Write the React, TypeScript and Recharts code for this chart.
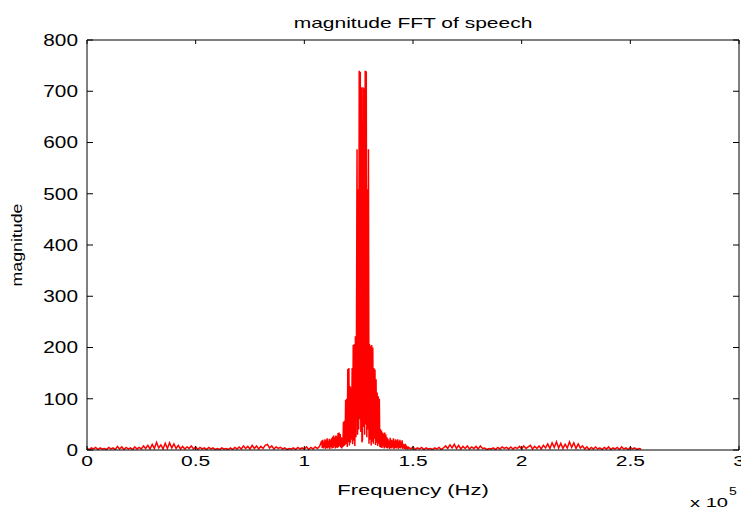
import React from 'react';
import { LineChart, Line, XAxis, YAxis } from 'recharts';

const FONT = '"Liberation Sans", Arial, Helvetica, sans-serif';
const SX = 1.4;

// x axis ticks (Hz) and their labels (in units of 1e5 Hz)
const xTicks = [0, 50000, 100000, 150000, 200000, 250000, 300000];
const xTickLabels = ['0', '0.5', '1', '1.5', '2', '2.5', '3'];
const yTicks = [0, 100, 200, 300, 400, 500, 600, 700, 800];

// FFT magnitude, low band: 0 .. 107000 Hz, one bin per 1000 Hz
const lowBandStartHz = 0;
const lowBandStepHz = 1000;
const lowBandMag = [
  3, 1, 4, 2, 5, 1, 4, 2, 3, 1,
  5, 2, 4, 1, 7, 2, 6, 1, 5, 2,
  4, 1, 6, 2, 5, 2, 8, 3, 9, 2,
  11, 3, 15, 4, 10, 2, 13, 3, 14, 4,
  12, 3, 9, 2, 7, 2, 6, 3, 8, 2,
  6, 1, 5, 2, 4, 1, 5, 2, 4, 1,
  3, 1, 4, 2, 3, 1, 4, 1, 5, 2,
  6, 2, 8, 3, 7, 2, 9, 3, 8, 2,
  7, 3, 9, 11, 4, 8, 2, 6, 3, 5,
  2, 4, 1, 3, 2, 4, 1, 5, 2, 4,
  2, 6, 1, 5, 2, 6, 3, 7,
];

// FFT magnitude, peak band: 108000 .. 147750 Hz, one bin per 250 Hz
const peakBandStartHz = 108000;
const peakBandStepHz = 250;
const peakBandMag = [
  18, 4, 20, 3, 16, 5, 21, 2, 19, 4,
  23, 3, 18, 5, 22, 2, 20, 6, 23, 3,
  26, 4, 28, 7, 25, 3, 28, 5, 27, 4,
  33, 6, 34, 8, 31, 5, 25, 3, 24, 6,
  55, 8, 57, 10, 98, 12, 100, 6, 158, 15,
  160, 9, 125, 14, 122, 20, 160, 11, 205, 18,
  207, 8, 222, 25, 223, 587, 30, 509, 40, 740,
  60, 738, 35, 708, 15, 20, 708, 45, 706, 30,
  740, 50, 739, 25, 509, 40, 587, 12, 207, 20,
  203, 9, 205, 16, 200, 12, 160, 22, 157, 10,
  138, 14, 112, 8, 105, 12, 100, 6, 41, 5,
  38, 4, 34, 7, 32, 3, 34, 6, 30, 4,
  25, 3, 22, 5, 18, 2, 24, 4, 20, 3,
  19, 5, 23, 2, 18, 4, 21, 3, 19, 5,
  21, 2, 17, 4, 20, 3, 16, 5, 19, 2,
  12, 3, 11, 2, 12, 4, 6, 2, 7, 3,
];

// FFT magnitude, high band: 148000 .. 255000 Hz, one bin per 1000 Hz
const highBandStartHz = 148000;
const highBandStepHz = 1000;
const highBandMag = [
  5, 2, 6, 1, 4, 2, 5, 1, 4, 2,
  3, 1, 4, 2, 5, 1, 4, 8, 3, 10,
  4, 11, 3, 9, 2, 7, 3, 8, 2, 6,
  3, 7, 2, 8, 3, 4, 1, 3, 2, 4,
  1, 5, 2, 6, 3, 5, 2, 6, 2, 5,
  3, 7, 2, 8, 3, 6, 9, 2, 7, 3,
  8, 2, 9, 4, 12, 3, 14, 5, 16, 4,
  13, 3, 11, 4, 16, 5, 14, 3, 12, 4,
  8, 2, 6, 1, 5, 2, 6, 2, 4, 1,
  5, 2, 6, 1, 4, 2, 5, 1, 6, 2,
  4, 1, 5, 2, 4, 1, 3, 2,
];

const toPoints = (start: number, step: number, mags: number[]) =>
  mags.map((m, i) => ({ f: start + i * step, m }));

const data = [
  ...toPoints(lowBandStartHz, lowBandStepHz, lowBandMag),
  ...toPoints(peakBandStartHz, peakBandStepHz, peakBandMag),
  ...toPoints(highBandStartHz, highBandStepHz, highBandMag),
];

function XTick(props: any) {
  const { x, y, payload } = props;
  const idx = xTicks.indexOf(payload.value);
  return (
    <text
      transform={`translate(${x},${y}) scale(${SX},1)`}
      textAnchor="middle"
      dy="0.72em"
      fontSize={15}
      fontFamily={FONT}
      fill="#000"
    >
      {idx >= 0 ? xTickLabels[idx] : ''}
    </text>
  );
}

function YTick(props: any) {
  const { x, y, payload } = props;
  return (
    <text
      transform={`translate(${x},${y}) scale(1.3,1)`}
      textAnchor="end"
      dy="0.36em"
      fontSize={16}
      fontFamily={FONT}
      fill="#000"
    >
      {String(payload.value)}
    </text>
  );
}

const NoTick = () => <g />;

export default function App() {
  return (
    <div style={{ position: 'absolute', left: 0, top: 0, width: 741, height: 511, background: '#fff' }}>
      <LineChart width={741} height={511} data={data} margin={{ top: 0, right: 0, bottom: 0, left: 0 }}>
        <XAxis
          xAxisId={0}
          dataKey="f"
          type="number"
          domain={[0, 300000]}
          ticks={xTicks}
          interval={0}
          tickSize={-4}
          tickMargin={9}
          tick={XTick}
          height={61}
          axisLine={{ stroke: '#000' }}
          tickLine={{ stroke: '#000' }}
          allowDataOverflow
        />
        <XAxis
          xAxisId="top"
          orientation="top"
          dataKey="f"
          type="number"
          domain={[0, 300000]}
          ticks={xTicks}
          interval={0}
          tickSize={-4}
          tick={NoTick}
          height={40}
          axisLine={{ stroke: '#000' }}
          tickLine={{ stroke: '#000' }}
          allowDataOverflow
        />
        <YAxis
          yAxisId={0}
          type="number"
          domain={[0, 800]}
          ticks={yTicks}
          interval={0}
          tickSize={-6}
          tickMargin={15}
          tick={YTick}
          width={87}
          axisLine={{ stroke: '#000' }}
          tickLine={{ stroke: '#000' }}
          allowDataOverflow
        />
        <YAxis
          yAxisId="r"
          orientation="right"
          type="number"
          domain={[0, 800]}
          ticks={yTicks}
          interval={0}
          tickSize={-6}
          tick={NoTick}
          width={2}
          axisLine={{ stroke: '#000' }}
          tickLine={{ stroke: '#000' }}
          allowDataOverflow
        />
        <Line
          xAxisId={0}
          yAxisId={0}
          type="linear"
          dataKey="m"
          stroke="#ff0000"
          strokeWidth={1.5}
          dot={false}
          activeDot={false}
          isAnimationActive={false}
        />
      </LineChart>
      <svg
        width={741}
        height={511}
        style={{ position: 'absolute', left: 0, top: 0, pointerEvents: 'none' }}
      >
        <text
          transform={`translate(413,28) scale(1.5,1)`}
          textAnchor="middle"
          fontSize={14}
          fontFamily={FONT}
          fill="#000"
        >
          magnitude FFT of speech
        </text>
        <text
          transform={`translate(413,495) scale(1.42,1)`}
          textAnchor="middle"
          fontSize={15.5}
          fontFamily={FONT}
          fill="#000"
        >
          Frequency (Hz)
        </text>
        <text
          transform={`translate(22,245) rotate(-90) scale(1.27,1.05)`}
          textAnchor="middle"
          fontSize={14}
          fontFamily={FONT}
          fill="#000"
        >
          magnitude
        </text>
        <text
          transform={`translate(690,507) scale(1.55,1)`}
          textAnchor="start"
          fontSize={13}
          fontFamily={FONT}
          fill="#000"
        >
          x 10
        </text>
        <text
          transform={`translate(729,495) scale(1.4,1)`}
          textAnchor="start"
          fontSize={10}
          fontFamily={FONT}
          fill="#000"
        >
          5
        </text>
      </svg>
    </div>
  );
}
